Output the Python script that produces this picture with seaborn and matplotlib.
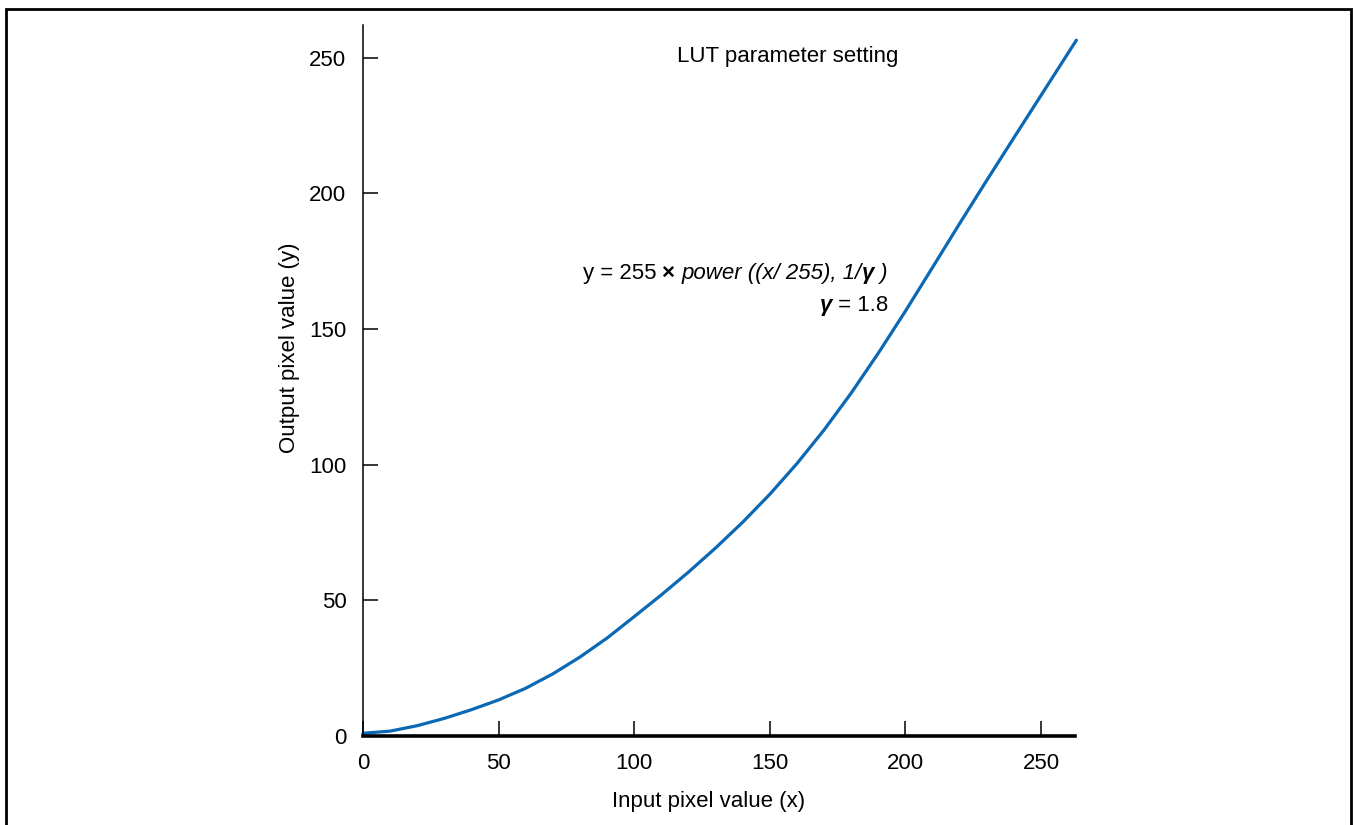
import matplotlib
matplotlib.use("Agg")
import matplotlib.pyplot as plt
import matplotlib.patches as mpatches
import seaborn as sns
import pandas as pd

# Data
input_x = [0, 10, 20, 30, 40, 50, 60, 70, 80, 90, 100, 110, 120, 130, 140,
           150, 160, 170, 180, 190, 200, 210, 220, 230, 240, 250, 263]
output_y = [1, 1.8, 3.8, 6.5, 9.7, 13.3, 17.6, 22.9, 29.1, 36.1, 44.0, 52.0,
            60.4, 69.3, 78.8, 89.1, 100.4, 112.8, 126.4, 141.1, 156.6, 172.7,
            188.9, 204.8, 220.5, 236.1, 256.4]
x_ticks = [0, 50, 100, 150, 200, 250]
y_ticks = [0, 50, 100, 150, 200, 250]

sns.set_theme(style="white")
plt.rcParams['font.family'] = ['Liberation Sans', 'DejaVu Sans']

W, H = 1354, 825
FS = 16
fig = plt.figure(figsize=(W / 100, H / 100), dpi=100)
ax = fig.add_axes([363 / W, 1 - 736 / H, (1075 - 363) / W, (736 - 25) / H])

df = pd.DataFrame({"x": input_x, "y": output_y})
sns.lineplot(data=df, x="x", y="y", ax=ax, color="#0a68b4", linewidth=2.3,
             clip_on=False)

ax.set_xlim(0, 262.5)
ax.set_ylim(0, 262)
ax.set_xticks(x_ticks)
ax.set_yticks(y_ticks)

for s in ["top", "right"]:
    ax.spines[s].set_visible(False)
ax.spines["left"].set_linewidth(1.1)
ax.spines["bottom"].set_linewidth(2.6)
ax.spines["left"].set_color("black")
ax.spines["bottom"].set_color("black")

ax.tick_params(axis="both", direction="in", length=10.8, width=1.1,
               color="black", labelsize=FS, labelcolor="black", pad=12,
               left=True, bottom=True)

ax.set_xlabel("Input pixel value (x)", fontsize=FS, color="black")
ax.set_ylabel("Output pixel value (y)", fontsize=FS, color="black")
ax.xaxis.set_label_coords(0.485, -0.077)
ax.yaxis.set_label_coords(-0.089, 0.546)

ax.text(156.7, 250.3, "LUT parameter setting", fontsize=FS, ha="center",
        va="center", color="black")

# Equation line 1, chained pieces
t1 = ax.text(81.0, 168.3, "y = 255 ", fontsize=FS, ha="left", va="baseline",
             color="black")
t1b = ax.annotate("\u00d7 ", xy=(1, 0), xycoords=t1, fontsize=FS, ha="left",
                  va="bottom", color="black", fontweight="bold")
t2 = ax.annotate("power ((x/ 255), 1/", xy=(1, 0), xycoords=t1b, fontsize=FS,
                 ha="left", va="bottom", color="black", fontstyle="italic")
t3 = ax.annotate("\u03b3", xy=(1, 0), xycoords=t2, fontsize=FS, ha="left",
                 va="bottom", color="black", fontweight="bold",
                 fontstyle="italic")
t4 = ax.annotate(" )", xy=(1, 0), xycoords=t3, fontsize=FS, ha="left",
                 va="bottom", color="black", fontstyle="italic")

# Equation line 2
g1 = ax.text(168.3, 156.7, "\u03b3", fontsize=FS, ha="left", va="baseline",
             color="black", fontweight="bold", fontstyle="italic")
g2 = ax.annotate(" = 1.8", xy=(1, 0), xycoords=g1, fontsize=FS, ha="left",
                 va="bottom", color="black")

# Figure border
border = mpatches.Rectangle((6 / W, -0.05), (1351 - 6) / W, 1 - 9 / H + 0.05,
                            transform=fig.transFigure, fill=False,
                            edgecolor="black", linewidth=2.0, clip_on=False)
fig.patches.append(border)

fig.savefig("out.png", dpi=100)
